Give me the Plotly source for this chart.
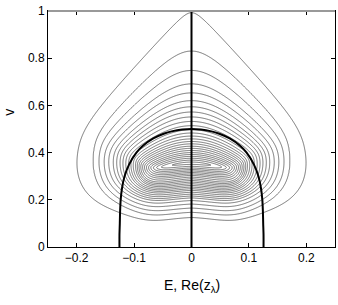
import numpy as np
import plotly.graph_objects as go

# ---------------- data ----------------
E_TICKS = [-0.2, -0.1, 0, 0.1, 0.2]
E_TICKTEXT = ["\u22120.2", "\u22120.1", "0", "0.1", "0.2"]
V_TICKS = [0, 0.2, 0.4, 0.6, 0.8, 1]
V_TICKTEXT = ["0", "0.2", "0.4", "0.6", "0.8", "1"]

# thick curve (boundary of z_lambda)
BND_V = [0, 0.05, 0.10, 0.15, 0.20, 0.25, 0.30, 0.35, 0.40, 0.43, 0.46, 0.48, 0.49, 0.50]
BND_E = [0.1255, 0.1255, 0.1249, 0.1244, 0.1234, 0.1210, 0.1166, 0.1086, 0.0960,
         0.0841, 0.0666, 0.0485, 0.0348, 0.0]

# thick vertical line
CUT_E = [0, 0]
CUT_V = [0, 1]

# contour family: crest height on E=0, base height on E=0, half width near v=0.4
CREST_V = [0.993, 0.830, 0.748, 0.691, 0.653, 0.620, 0.594, 0.572, 0.551, 0.532, 0.514, 0.497,
           0.483, 0.470, 0.458, 0.447, 0.437, 0.427, 0.418, 0.409, 0.400, 0.392, 0.384, 0.376,
           0.368, 0.360]
BASE_V = [0.127, 0.149, 0.167, 0.184, 0.199, 0.210, 0.218, 0.226, 0.234, 0.242, 0.249, 0.256,
          0.263, 0.270, 0.277, 0.284, 0.291, 0.298, 0.305, 0.311, 0.317, 0.323, 0.329, 0.335,
          0.342, 0.350]
HALF_E = [0.201, 0.172, 0.162, 0.153, 0.145, 0.137, 0.131, 0.125, 0.120, 0.115, 0.110, 0.106,
          0.102, 0.098, 0.095, 0.092, 0.089, 0.086, 0.083, 0.080, 0.077, 0.074, 0.071, 0.068,
          0.065, 0.062]
RIDGE_V = 0.356
SIDE_V = 0.41

# ---------------- field whose level sets follow the family ----------------
KX = 572.0 / 235.0          # pixel aspect of the axes
E = np.linspace(-0.25, 0.25, 401)
V = np.linspace(0.0, 1.0, 401)
EE, VV = np.meshgrid(E, V)
XA = np.abs(EE) * KX

zl = np.array(CREST_V) - RIDGE_V
order = np.argsort(zl)
zs = zl[order]
bs = np.array(BASE_V)[order]
hs = np.array(HALF_E)[order] * KX


def lin(z, xp, fp):
    y = np.interp(z, xp, fp)
    s0 = (fp[1] - fp[0]) / (xp[1] - xp[0])
    s1 = (fp[-1] - fp[-2]) / (xp[-1] - xp[-2])
    y = np.where(z < xp[0], fp[0] + (z - xp[0]) * s0, y)
    y = np.where(z > xp[-1], fp[-1] + (z - xp[-1]) * s1, y)
    return y


SIG = 1.1
NEXP = 3.0


def g(z):
    eps = np.clip(0.035 + 0.49 * (0.637 - z), 0.03, 0.40)
    top = RIDGE_V + z - SIG * (np.sqrt(XA ** 2 + eps ** 2) - eps)
    gc = VV - top
    S = np.maximum(lin(z, zs, hs), 0.02)
    Bt = lin(z, zs, bs)
    Vb = np.maximum(SIDE_V - Bt, 0.01)
    kap = 1.3 * np.exp(-z / 0.10)
    dip = 0.018 * np.exp(-((XA - 0.18) / 0.12) ** 2) * np.clip(z / 0.08, 0, 1)
    yp = VV + kap * XA ** 2 + dip
    rho = (XA / S) ** NEXP + (np.maximum(SIDE_V - yp, 0) / Vb) ** NEXP
    gb = (rho ** (1.0 / NEXP) - 1.0) * np.minimum(Vb, S)
    r = 0.003 + 0.06 * z
    m = np.maximum(gc, gb)
    return m + r * np.log(np.exp((gc - m) / r) + np.exp((gb - m) / r))


lo = np.zeros_like(EE)
hi = np.full_like(EE, 1.5)
for _ in range(40):
    mid = 0.5 * (lo + hi)
    out = g(mid) > 0
    lo = np.where(out, mid, lo)
    hi = np.where(out, hi, mid)
Z = 0.5 * (lo + hi)
W = lin(Z, zs, np.arange(len(zs), dtype=float))

fig = go.Figure()
fig.add_trace(go.Contour(
    x=E, y=V, z=W,
    contours=dict(start=0, end=len(zs) - 1, size=1, coloring="lines"),
    colorscale=[[0, "#3c3c3c"], [1, "#3c3c3c"]],
    line=dict(width=0.7, smoothing=1),
    showscale=False, hoverinfo="skip",
))

bx = [-e for e in BND_E] + BND_E[::-1][1:]
by = BND_V + BND_V[::-1][1:]
fig.add_trace(go.Scatter(x=bx, y=by, mode="lines",
                         line=dict(color="black", width=2, shape="spline", smoothing=0.6),
                         hoverinfo="skip"))
fig.add_trace(go.Scatter(x=CUT_E, y=CUT_V, mode="lines",
                         line=dict(color="black", width=2), hoverinfo="skip"))

font = dict(family="Liberation Sans, Arial, Helvetica, sans-serif", size=12, color="black")
fig.update_layout(
    width=338, height=305,
    margin=dict(l=48, r=3, t=11, b=58),
    paper_bgcolor="white", plot_bgcolor="white",
    showlegend=False, font=font,
    xaxis=dict(range=[-0.25, 0.25], tickvals=E_TICKS, ticktext=E_TICKTEXT,
               ticks="inside", ticklen=4, tickcolor="black", showline=True,
               linecolor="black", linewidth=1, mirror="ticks", showgrid=False,
               zeroline=False, automargin=False),
    yaxis=dict(range=[0, 1], tickvals=V_TICKS, ticktext=V_TICKTEXT,
               ticks="inside", ticklen=4, tickcolor="black", showline=True,
               linecolor="black", linewidth=1, mirror="ticks", showgrid=False,
               zeroline=False, automargin=False),
    shapes=[dict(type="line", xref="paper", yref="paper", x0=0, x1=1, y0=1, y1=1,
                 line=dict(color="#999999", width=2))],
    annotations=[
        dict(text="E, Re(z<sub>\u03bb</sub>)", xref="paper", yref="paper",
             x=0.5, y=-0.165, xanchor="center", yanchor="middle",
             showarrow=False, font=dict(size=14)),
        dict(text="v", xref="paper", yref="paper", x=-0.135, y=0.57,
             xanchor="center", yanchor="middle", textangle=-90,
             showarrow=False, font=dict(size=14)),
    ],
)
fig.write_html("out.html", config={"displayModeBar": False},
               post_script="document.body.style.margin='0px';document.body.style.padding='0px';")
